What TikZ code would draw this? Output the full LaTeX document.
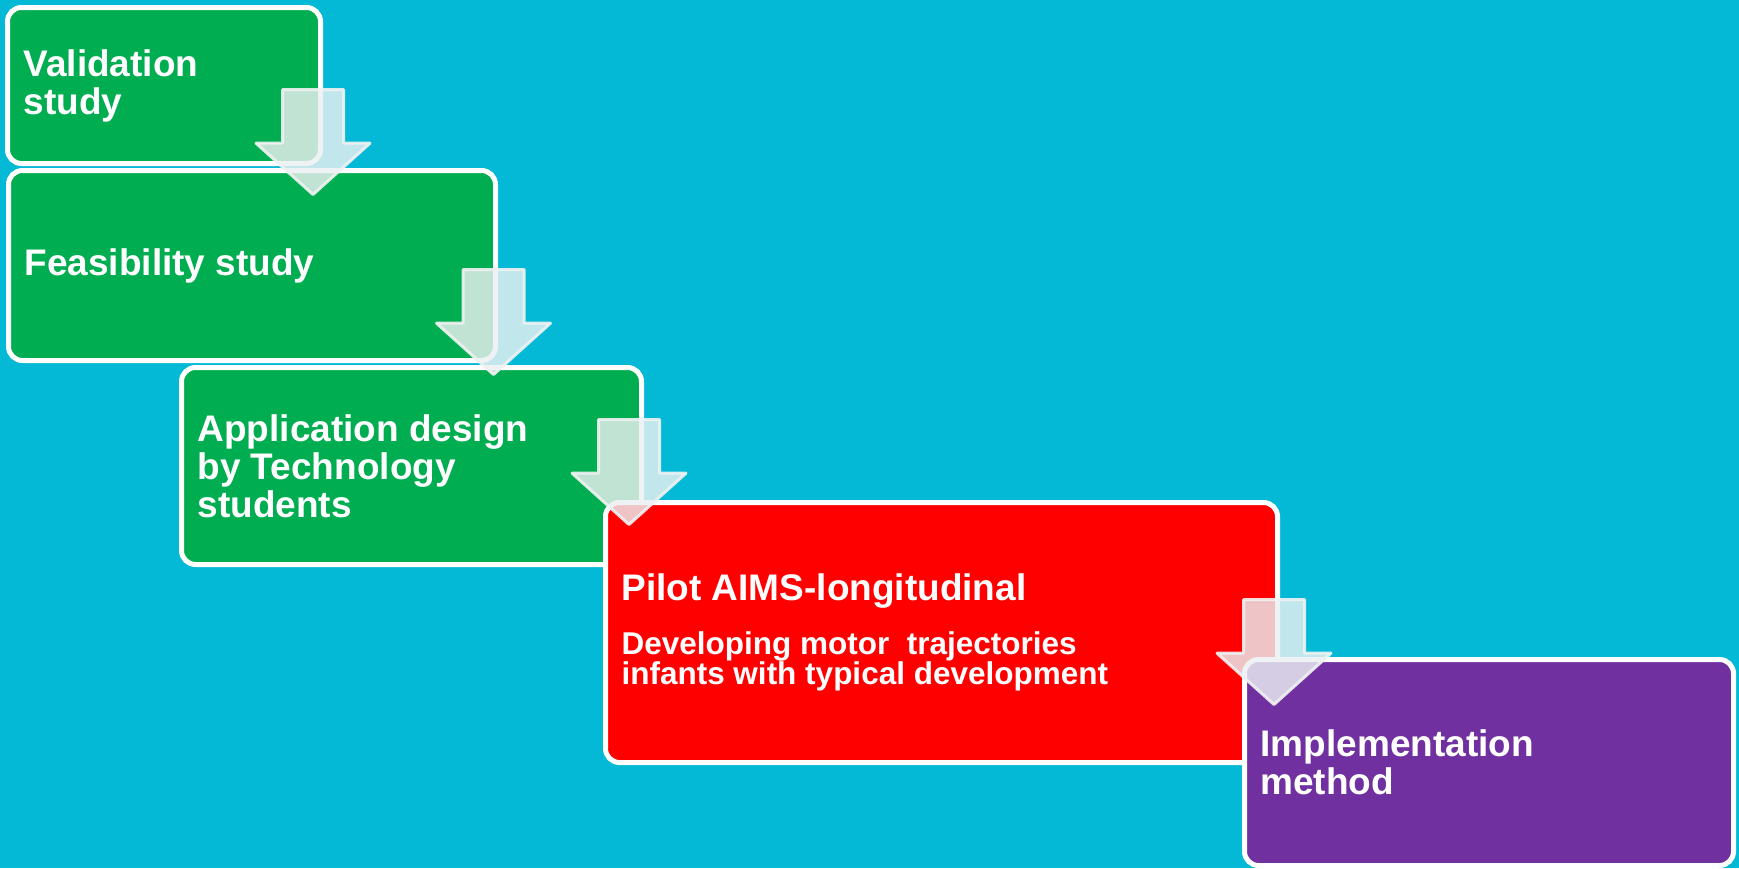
\documentclass[tikz,border=0pt]{standalone}
\usepackage{fontspec}
\setmainfont{Liberation Sans}
\usetikzlibrary{shapes.arrows}

\definecolor{bgcyan}{RGB}{3,185,214}
\definecolor{stepgreen}{RGB}{0,173,80}
\definecolor{stepred}{RGB}{255,0,0}
\definecolor{steppurple}{RGB}{112,48,160}
\definecolor{arrowfill}{RGB}{236,240,242}
\definecolor{arrowline}{RGB}{240,242,242}

\tikzset{
	stepbox/.style={rectangle, rounded corners=14pt, draw=white, line width=5pt, text=white,
		font=\bfseries\fontsize{37}{38}\selectfont, anchor=north west, align=flush left,
		inner xsep=16pt, inner ysep=0pt, outer sep=0pt},
	flowarrow/.style={single arrow, draw=arrowline, line width=3pt, fill=arrowfill,
		fill opacity=0.82, draw opacity=0.9, minimum height=105pt,
		single arrow head extend=26.5pt, single arrow tip angle=96, inner xsep=0pt,
		inner ysep=29pt, outer sep=0pt, anchor=tail, rotate=-90}
}

\begin{document}
\begin{tikzpicture}[x=1pt, y=-1pt, line join=round]
			\useasboundingbox (0,0) rectangle (1739,868);
			\fill[bgcyan] (0,0) rectangle (1739,868);
			% the five steps
			\node[stepbox, fill=stepgreen, minimum width=313pt, minimum height=156pt, text width=281pt] (valid) at (7.5,7.5) {Validation\\study};
			\node[stepbox, fill=stepgreen, minimum width=487pt, minimum height=190pt, text width=455pt] (feas) at (8.5,170.5) {Feasibility study};
			\node[stepbox, fill=stepgreen, minimum width=460pt, minimum height=197pt, text width=428pt] (appl) at (181.5,367.5) {Application design\\by Technology\\students};
			\node[stepbox, fill=stepred, minimum width=672pt, minimum height=260pt, text width=640pt] (pilot) at (605.5,502.5)
				{{Pilot AIMS-longitudinal\par}\vspace{22pt}{\fontsize{31.5}{29}\selectfont Developing motor\ \ trajectories\\infants with typical development\par}};
			\node[stepbox, fill=steppurple, minimum width=489pt, minimum height=206pt, text width=457pt] (impl) at (1244.5,659.5) {Implementation\\method};
			% arrows between steps
			\node[flowarrow] (a1) at (313,89.5) {};
			\node[flowarrow] (a2) at (493.5,269.5) {};
			\node[flowarrow] (a3) at (629,419.5) {};
			\node[flowarrow] (a4) at (1274,599.5) {};
		\end{tikzpicture}
\end{document}
